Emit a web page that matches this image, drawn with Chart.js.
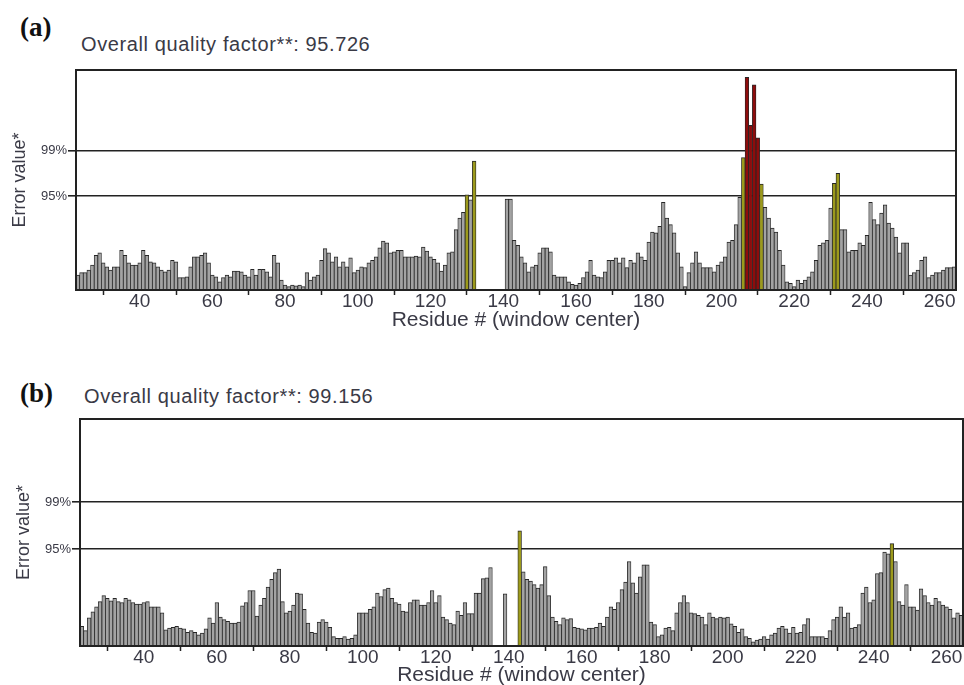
<!DOCTYPE html>
<html>
<head>
<meta charset="utf-8">
<script src="https://cdn.jsdelivr.net/npm/chart.js@4.4.1/dist/chart.umd.min.js"></script>
<style>
  body { margin: 0; background: #fff; width: 964px; height: 685px; overflow: hidden; position: relative;
         font-family: "Liberation Sans", Arial, sans-serif; }
  .tag { position: absolute; font-family: "Liberation Serif", "Times New Roman", serif; font-weight: bold;
         font-size: 27px; line-height: 27px; color: #111; }
  .head { position: absolute; font-size: 20px; line-height: 20px; color: #3a3a46; letter-spacing: 0.6px; }
  canvas { position: absolute; left: 0; }
</style>
</head>
<body>
<div class="tag" style="left:20px;top:14px">(a)</div>
<div class="head" style="left:81px;top:34px">Overall quality factor**: 95.726</div>
<div class="tag" style="left:20px;top:380px">(b)</div>
<div class="head" style="left:84px;top:386px">Overall quality factor**: 99.156</div>
<canvas id="chartA" width="964" height="345" style="top:0"></canvas>
<canvas id="chartB" width="964" height="345" style="top:345px"></canvas>

<script>
// residue numbers (window centers) shown on the x axis
const firstResidue = 23, lastResidue = 264;
const residues = [];
for (let r = firstResidue; r <= lastResidue; r++) residues.push(r);

const tickLabels = [40, 60, 80, 100, 120, 140, 160, 180, 200, 220, 240, 260];
const tickMarks = [30, 50, 70, 90, 110, 130, 150, 170, 190, 210, 230, 250];

// confidence limits drawn as horizontal lines
const thresholds = [11.36, 16.85];
const thresholdLabels = ['95%', '99%'];
const yMax = 26.6;

// panel (a), residues 23..264 (null = no window)
const errorA = [
  1.8, 2.1, 2.1, 2.4, 3.0, 4.2, 4.5, 3.3, 2.8, 2.4,
  2.8, 2.8, 4.8, 4.2, 3.3, 3.0, 3.0, 3.3, 4.8, 4.2,
  3.4, 3.3, 2.8, 2.4, 2.2, 2.4, 3.6, 3.4, 1.5, 1.5,
  1.6, 2.8, 4.0, 4.0, 4.2, 4.5, 3.3, 1.8, 1.6, 1.0,
  1.5, 1.8, 1.6, 2.3, 2.3, 2.2, 1.8, 1.6, 2.5, 1.8,
  2.5, 2.5, 2.2, 1.6, 4.2, 3.3, 1.2, 0.6, 0.4, 0.6,
  0.5, 0.6, 0.4, 2.1, 1.2, 1.6, 1.8, 3.6, 5.0, 4.5,
  3.4, 4.0, 2.8, 3.4, 2.8, 3.9, 2.1, 2.4, 2.8, 2.7,
  3.3, 3.6, 4.0, 5.1, 5.9, 5.7, 4.5, 4.6, 4.8, 4.8,
  4.0, 4.0, 4.0, 4.1, 4.0, 5.2, 4.7, 4.0, 3.7, 3.3,
  2.3, 3.0, 4.5, 4.6, 7.3, 8.7, 9.4, 11.5, 10.9, 15.6,
  null, null, null, null, null, null, null, null,
  11.0, 11.0, 6.0, 5.4, 4.0, 3.3, 2.2, 2.8, 3.0, 4.5,
  5.1, 5.1, 4.6, 1.8, 1.6, 1.6, 1.6, 1.0, 0.7, 0.6,
  0.8, 1.5, 2.2, 3.6, 1.8, 1.6, 1.5, 2.2, 3.6, 3.6,
  3.9, 3.3, 3.9, 2.7, 3.6, 3.3, 4.5, 4.0, 3.6, 5.8,
  7.0, 6.9, 7.7, 10.6, 8.7, 7.9, 6.9, 4.5, 2.8, 0.4,
  2.1, 3.3, 4.6, 3.3, 2.7, 2.7, 2.7, 2.2, 3.0, 3.4,
  4.0, 5.8, 6.0, 7.9, 11.2, 16.0, 25.7, 19.9, 24.8, 18.4,
  12.8, 10.0, 8.7, 7.5, 7.0, 4.8, 3.0, 1.0, 0.8, 0.4,
  1.2, 0.8, 1.2, 1.6, 2.2, 3.6, 5.4, 5.7, 6.0, 9.9,
  12.9, 14.1, 7.3, 7.3, 4.6, 4.8, 4.8, 5.7, 5.4, 6.6,
  10.6, 8.5, 7.9, 9.3, 10.3, 8.1, 7.5, 6.4, 4.5, 5.7,
  5.7, 1.8, 2.1, 2.4, 3.6, 4.0, 1.5, 1.8, 2.1, 2.1,
  2.4, 2.7, 2.7, 2.8
];

// panel (b), residues 23..264
const errorB = [
  2.3, 1.8, 3.3, 4.0, 4.6, 5.2, 5.9, 5.6, 5.3, 5.6,
  5.2, 5.1, 5.6, 5.4, 5.1, 4.9, 4.9, 5.1, 5.2, 4.6,
  4.6, 4.6, 3.9, 1.9, 2.1, 2.2, 2.3, 2.1, 2.0, 1.6,
  1.8, 1.6, 1.3, 1.5, 2.0, 3.3, 2.7, 5.1, 3.4, 3.1,
  2.9, 2.7, 2.7, 2.8, 4.7, 5.1, 6.5, 6.5, 3.5, 4.8,
  5.6, 6.9, 7.8, 8.6, 9.0, 5.2, 3.9, 4.1, 4.8, 6.2,
  6.1, 4.3, 2.7, 1.6, 1.5, 2.8, 3.1, 2.8, 2.2, 1.1,
  0.9, 0.9, 1.1, 0.8, 0.9, 1.3, 3.9, 3.9, 3.9, 4.3,
  4.6, 6.2, 5.8, 6.6, 6.8, 5.6, 5.1, 4.9, 4.1, 4.0,
  5.1, 5.4, 5.4, 4.8, 4.8, 5.1, 6.5, 5.1, 5.9, 3.4,
  3.1, 2.7, 2.5, 4.1, 3.6, 5.1, 3.8, 3.8, 6.2, 6.2,
  7.9, 8.0, 9.2, null, null, null, 6.1, null, null, null,
  13.5, 8.7, 7.8, 7.6, 7.2, 6.8, 7.2, 9.3, 5.9, 3.4,
  2.9, 2.5, 3.3, 3.1, 3.2, 2.2, 2.1, 2.0, 1.9, 2.1,
  2.1, 2.2, 2.7, 2.3, 3.4, 4.6, 4.3, 5.1, 6.6, 7.5,
  9.9, 7.4, 6.2, 8.1, 9.5, 9.5, 2.8, 2.5, 1.1, 1.3,
  2.1, 2.2, 1.8, 3.9, 5.1, 5.9, 5.1, 3.9, 3.8, 3.6,
  3.4, 2.5, 3.9, 3.4, 3.2, 3.4, 3.3, 3.4, 2.6, 2.3,
  1.6, 2.0, 1.1, 0.9, 0.5, 0.7, 0.8, 1.1, 0.8, 1.3,
  1.5, 2.1, 2.3, 2.0, 1.5, 2.2, 1.5, 1.6, 2.5, 3.2,
  1.1, 1.1, 1.1, 1.1, 0.9, 1.8, 3.1, 3.4, 4.6, 3.4,
  3.9, 2.1, 2.2, 2.5, 6.2, 6.9, 5.1, 5.4, 8.5, 8.6,
  11.0, 10.8, 12.0, 9.9, 5.2, 4.8, 7.2, 4.6, 4.6, 4.2,
  6.7, 5.9, 5.1, 4.8, 5.6, 5.2, 4.8, 4.6, 4.3, 3.3,
  3.9, 3.6
];

const textColor = '#3a3a46';
Chart.defaults.font.family = '"Liberation Sans", Arial, sans-serif';

function barColor(v) {
  if (v > thresholds[1]) return '#8e0c0c';
  if (v > thresholds[0]) return '#9c9a1c';
  return '#a3a3a3';
}

// box round the plot area
const framePlugin = {
  id: 'frame',
  afterDatasetsDraw(chart) {
    const { ctx, chartArea: a } = chart;
    ctx.save();
    ctx.strokeStyle = '#222';
    ctx.lineWidth = 2;
    ctx.strokeRect(a.left, a.top, a.right - a.left, a.bottom - a.top);
    ctx.restore();
  }
};

function errorChart(id, values, box) {
  return new Chart(document.getElementById(id), {
    type: 'bar',
    data: {
      labels: residues,
      datasets: [{
        data: values,
        backgroundColor: ctx => barColor(ctx.raw),
        borderColor: '#262626',
        borderWidth: { top: 1, left: 0.8, right: 0.8, bottom: 0 },
        categoryPercentage: 1,
        barPercentage: 1
      }]
    },
    options: {
      responsive: false,
      animation: false,
      layout: { padding: { left: 0, top: box.top, right: 964 - box.right, bottom: 0 } },
      plugins: { legend: { display: false }, tooltip: { enabled: false } },
      scales: {
        x: {
          grid: {
            offset: false,
            drawOnChartArea: false,
            tickLength: 5,
            tickWidth: 1.5,
            tickColor: c => tickMarks.includes(residues[c.index]) ? '#222' : 'rgba(0,0,0,0)'
          },
          border: { display: false },
          ticks: {
            autoSkip: false,
            maxRotation: 0,
            padding: box.tickPad,
            color: textColor,
            font: { size: 19, lineHeight: 1 },
            callback: (v, i) => tickLabels.includes(residues[i]) ? String(residues[i]) : ''
          },
          title: {
            display: true,
            text: 'Residue # (window center)',
            color: textColor,
            font: { size: 21, lineHeight: 1.2 },
            padding: { top: 0, bottom: box.titlePad }
          },
          afterFit: s => { s.height = box.canvasH - box.bottom; }
        },
        y: {
          min: 0,
          max: yMax,
          afterBuildTicks: s => { s.ticks = thresholds.map(v => ({ value: v })); },
          afterFit: s => { s.width = box.left; },
          grid: { color: '#222', lineWidth: 1.6, tickLength: 8 },
          border: { display: false },
          ticks: {
            padding: 1,
            color: textColor,
            font: { size: 13 },
            callback: v => thresholdLabels[thresholds.indexOf(v)]
          },
          title: {
            display: true,
            text: 'Error value*',
            color: textColor,
            font: { size: 18, lineHeight: 1.2 },
            padding: { top: box.yTitlePad, bottom: 0 }
          }
        }
      }
    },
    plugins: [framePlugin]
  });
}

errorChart('chartA', errorA, { left: 76, right: 956, top: 70, bottom: 290, canvasH: 345,
  tickPad: -2.5, titlePad: 12.4, yTitlePad: 9 });
errorChart('chartB', errorB, { left: 80, right: 963, top: 74, bottom: 301, canvasH: 345,
  tickPad: -3, titlePad: 2.4, yTitlePad: 13 });
</script>
</body>
</html>
